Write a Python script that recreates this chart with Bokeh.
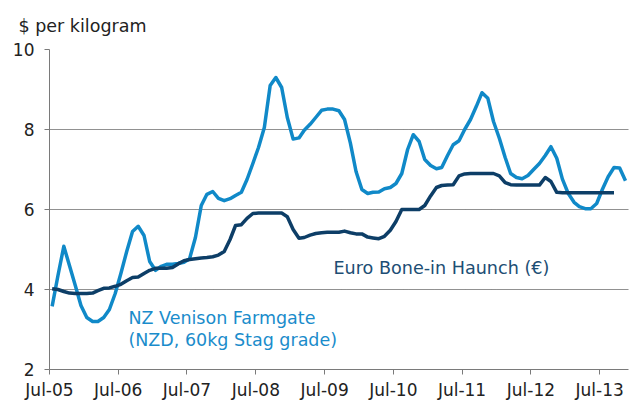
import pandas as pd
from bokeh.plotting import figure
from bokeh.models import FixedTicker, DatetimeTickFormatter, Label, Range1d
from bokeh.embed import file_html
from bokeh.resources import INLINE

start_month = "2005-07-01"

nz_values = [
    3.58, 4.35, 5.08, 4.60, 4.10, 3.60, 3.30, 3.20, 3.20, 3.30, 3.50, 3.90,
    4.40, 4.95, 5.45, 5.58, 5.35, 4.70, 4.48, 4.58, 4.63, 4.63, 4.65, 4.68,
    4.77, 5.30, 6.10, 6.38, 6.45, 6.28, 6.22, 6.27, 6.35, 6.43, 6.75, 7.15,
    7.55, 8.05, 9.10, 9.30, 9.05, 8.30, 7.76, 7.79, 7.98, 8.13, 8.30, 8.48,
    8.51, 8.51, 8.47, 8.25, 7.66, 6.95, 6.50, 6.40, 6.43, 6.44, 6.52, 6.55,
    6.65, 6.90, 7.50, 7.87, 7.70, 7.25, 7.10, 7.02, 7.05, 7.35, 7.62, 7.72,
    8.00, 8.25, 8.58, 8.92, 8.78, 8.20, 7.78, 7.30, 6.90, 6.80, 6.77, 6.85,
    7.00, 7.15, 7.35, 7.57, 7.28, 6.76, 6.40, 6.18, 6.07, 6.02, 6.02, 6.15,
    6.50, 6.82, 7.05, 7.04, 6.72,
]

euro_values = [
    4.02, 4.00, 3.95, 3.91, 3.90, 3.90, 3.90, 3.91, 3.97, 4.03, 4.04, 4.08,
    4.13, 4.22, 4.30, 4.31, 4.40, 4.48, 4.53, 4.53, 4.53, 4.55, 4.64, 4.72,
    4.75, 4.77, 4.79, 4.80, 4.82, 4.86, 4.95, 5.25, 5.60, 5.62, 5.78, 5.90,
    5.91, 5.91, 5.91, 5.91, 5.91, 5.82, 5.50, 5.28, 5.30, 5.36, 5.40, 5.42,
    5.43, 5.43, 5.43, 5.46, 5.42, 5.39, 5.39, 5.31, 5.29, 5.27, 5.33, 5.48,
    5.70, 6.00, 6.00, 6.00, 6.00, 6.10, 6.34, 6.55, 6.60, 6.61, 6.62, 6.84,
    6.89, 6.90, 6.90, 6.90, 6.90, 6.90, 6.84, 6.67, 6.62, 6.61, 6.61, 6.61,
    6.61, 6.61, 6.80, 6.70, 6.43, 6.42, 6.42, 6.42, 6.42, 6.42, 6.42, 6.42,
    6.42, 6.42, 6.42,
]

tick_labels = ["Jul-05", "Jul-06", "Jul-07", "Jul-08", "Jul-09",
               "Jul-10", "Jul-11", "Jul-12", "Jul-13"]
y_ticks = [2, 4, 6, 8, 10]

FONT = "DejaVu Sans"
NZ_COLOR = "#1089C8"
EURO_COLOR = "#0D3E67"

months = pd.date_range(start_month, periods=len(nz_values) + 1, freq="MS")
mid = months[:-1] + pd.Timedelta(days=14)
nz_x = list(mid[:len(nz_values)])
euro_x = list(mid[:len(euro_values)])

tick_dates = pd.to_datetime(["20" + t[-2:] + "-07-01" for t in tick_labels])
tick_ms = [int(d.value // 10**6) for d in tick_dates]

p = figure(width=630, height=402, x_axis_type="datetime",
           output_backend="svg", toolbar_location=None,
           min_border_left=49, min_border_right=2,
           min_border_top=49, min_border_bottom=30)
p.x_range = Range1d(months[0], months[-1])
p.y_range = Range1d(2, 10)
p.outline_line_color = None
p.background_fill_color = "white"

p.line(nz_x, nz_values, line_color=NZ_COLOR, line_width=3.5, line_join="round")
p.line(euro_x, euro_values, line_color=EURO_COLOR, line_width=3.5, line_join="round")

p.xaxis.ticker = FixedTicker(ticks=tick_ms)
fmt = "%b-%y"
p.xaxis.formatter = DatetimeTickFormatter(years=fmt, months=fmt, days=fmt, hours=fmt)
p.yaxis.ticker = FixedTicker(ticks=y_ticks)

for ax in (p.xaxis, p.yaxis):
    ax.axis_line_color = "#7a7a7a"
    ax.axis_line_width = 1
    ax.major_tick_line_color = "#7a7a7a"
    ax.major_tick_in = 0
    ax.major_tick_out = 5
    ax.minor_tick_line_color = None
    ax.major_label_text_font = FONT
    ax.major_label_text_font_size = "17px"
    ax.major_label_text_color = "#222222"
p.yaxis.major_label_standoff = 10
p.xaxis.major_label_standoff = 5

p.xgrid.grid_line_color = None
p.ygrid.ticker = FixedTicker(ticks=[4, 6, 8, 10])
p.ygrid.grid_line_color = "#222222"
p.ygrid.grid_line_dash = "1 1"
p.ygrid.grid_line_width = 1

p.title.text = "$ per kilogram"
p.title.text_font = FONT
p.title.text_font_size = "17.5px"
p.title.text_font_style = "normal"
p.title.text_color = "#222222"
p.title.align = "left"
p.title.offset = -31
p.title.standoff = 27
p.title.text_line_height = 0.8

lbl_kw = dict(text_font=FONT, text_baseline="middle", text_align="left")
p.add_layout(Label(x=pd.Timestamp("2006-08-24"), y=3.29, text="NZ Venison Farmgate",
                   text_color="#1A8CCB", text_font_size="17.5px", **lbl_kw))
p.add_layout(Label(x=pd.Timestamp("2006-08-24"), y=2.75, text="(NZD, 60kg Stag grade)",
                   text_color="#1A8CCB", text_font_size="17.5px", **lbl_kw))
p.add_layout(Label(x=pd.Timestamp("2009-08-17"), y=4.53, text="Euro Bone-in Haunch (€)",
                   text_color="#1D4E74", text_font_size="17.6px", **lbl_kw))

open("out.html", "w").write(file_html(p, INLINE))
